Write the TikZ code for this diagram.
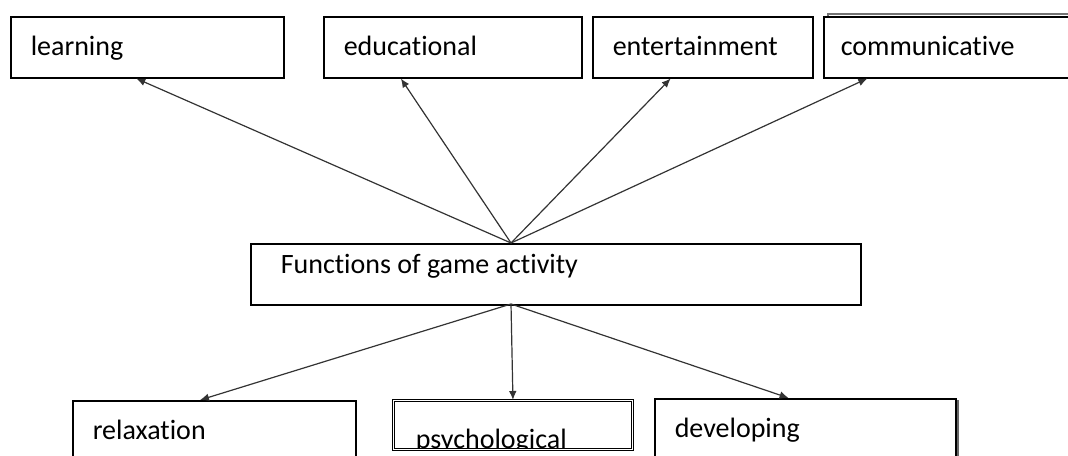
\documentclass[tikz,border=0pt]{standalone}
\usepackage{fontspec}
\setmainfont{Carlito}[Ligatures={NoCommon}]
\usetikzlibrary{arrows.meta,calc,shadows}

\tikzset{
  fbox/.style={draw, line width=0.75pt, rectangle, anchor=north west, align=flush left,
    inner xsep=10pt, inner ysep=7.5pt, text height=12pt, text depth=3.5pt,
    font=\fontsize{14}{16}\selectfont},
  lowbox/.style={fbox, text depth=30pt},
  fnarrow/.style={-{Latex[length=4.5pt,width=3.8pt]}, line width=0.6pt, black!80}
}

\begin{document}
\begin{tikzpicture}[x=0.5pt,y=-0.5pt]
  \useasboundingbox (0,0) rectangle (1068,455);

  % Upper row of functions
  \node[fbox, text width=116.5pt] (learn) at (10,16) {learning};
  \node[fbox, text width=109pt] (edu) at (323,16) {educational};
  \node[fbox, text width=90pt] (ent) at (592,16) {entertainment};
  \node[fbox, fill=white, inner xsep=8.5pt, text width=130pt,
    copy shadow={shadow xshift=2pt, shadow yshift=1.5pt, draw=black!55, fill=white}]
    (comm) at (823,16) {communicative};

  % Central node
  \node[fbox, inner xsep=15pt, text height=7.5pt, text depth=8pt, text width=275pt]
    (fun) at (250,243) {Functions of game activity};
  \coordinate (topHub) at (511,243);
  \coordinate (botHub) at (511,304);

  % Lower row of functions
  \node[lowbox, text width=121.5pt] (relax) at (72,400) {relaxation};
  \node[draw, double, line width=0.45pt, double distance=0.8pt, anchor=north west,
    minimum width=119.5pt, minimum height=24.5pt, inner sep=0pt,
    path picture={\node[anchor=base west, inner sep=0pt, minimum width=0pt, minimum height=0pt,
      font=\fontsize{14}{16}\selectfont]
      at ([xshift=11pt,yshift=-24pt]path picture bounding box.north west) {psychological};}]
    (psych) at (393,400) {};
  \node[lowbox, fill=white, text width=130.5pt,
    copy shadow={shadow xshift=1pt, shadow yshift=-1pt, draw=black!60, fill=white}]
    (dev) at (654,398) {developing};

  % Arrows up
  \draw[fnarrow] (topHub) -- ($(learn.south west)!0.46!(learn.south east)$);
  \draw[fnarrow] (topHub) -- ($(edu.south west)!0.30!(edu.south east)$);
  \draw[fnarrow] (topHub) -- ($(ent.south west)!0.355!(ent.south east)$);
  \draw[fnarrow] (topHub) -- ($(comm.south west)!0.15!(comm.south east)$);

  % Arrows down
  \draw[fnarrow] (botHub) -- ($(relax.north west)!0.45!(relax.north east)$);
  \draw[fnarrow] (botHub) -- (psych.north);
  \draw[fnarrow] (botHub) -- ($(dev.north west)!0.445!(dev.north east)$);
\end{tikzpicture}
\end{document}
